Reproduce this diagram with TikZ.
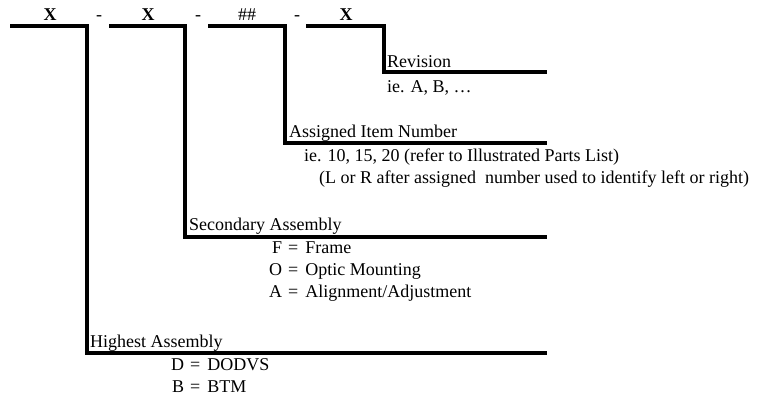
\documentclass[tikz,border=0pt]{standalone}
\usepackage{fontspec}
\setmainfont{Liberation Serif}
\usetikzlibrary{positioning}
\newcommand{\kv}[2]{\makebox[14pt][r]{#1}\hspace{6pt}=\hspace{7pt}#2}

\begin{document}
\begin{tikzpicture}[x=1pt,y=-1pt,
  bar/.style={line width=3.5pt},
  txt/.style={anchor=base west,inner sep=0pt,font=\fontsize{18}{21}\selectfont},
  code/.style={anchor=base,inner sep=0pt,font=\fontsize{18}{21}\selectfont\bfseries}]
\useasboundingbox (0,0) rectangle (759,400);
% part number fields
\node[code] (f1) at (50,20) {X};
\node[txt,anchor=base] (d1) at (99,20) {-};
\node[code] (f2) at (148,20) {X};
\node[txt,anchor=base] (d2) at (198,20) {-};
\node[txt,anchor=base] (f3) at (247,20) {\#\#};
\node[txt,anchor=base] (d3) at (297,20) {-};
\node[code] (f4) at (346,20) {X};
% brackets
\coordinate (h0) at (10,26);  \coordinate (h1) at (87,26);
\coordinate (h2) at (87,353); \coordinate (h3) at (547,353);
\coordinate (s0) at (109,26); \coordinate (s1) at (185,26);
\coordinate (s2) at (185,237); \coordinate (s3) at (547,237);
\coordinate (a0) at (208,26); \coordinate (a1) at (285,26);
\coordinate (a2) at (285,143); \coordinate (a3) at (547,143);
\coordinate (r0) at (306,26); \coordinate (r1) at (384,26);
\coordinate (r2) at (384,72); \coordinate (r3) at (547,72);
\draw[bar] (h0) -- (h1) -- (h2) -- (h3);
\draw[bar] (s0) -- (s1) -- (s2) -- (s3);
\draw[bar] (a0) -- (a1) -- (a2) -- (a3);
\draw[bar] (r0) -- (r1) -- (r2) -- (r3);
% revision
\node[txt] (rev) at (387,67) {Revision};
\node[txt] (revex) at (387,92) {ie. A, B, \ldots};
% item number
\node[txt] (item) at (289,137) {Assigned Item Number};
\node[txt] (itemex) at (304,161) {ie. 10, 15, 20 (refer to Illustrated Parts List)};
\node[txt] (itemlr) at (319,183) {(L or R after assigned\ \ number used to identify left or right)};
% secondary assembly
\node[txt] (sec) at (189,230) {Secondary Assembly};
\node[txt] (secf) at (268,253) {\kv{F}{Frame}};
\node[txt] (seco) at (268,275) {\kv{O}{Optic Mounting}};
\node[txt] (seca) at (268,297) {\kv{A}{Alignment/Adjustment}};
% highest assembly
\node[txt] (high) at (90,347) {Highest Assembly};
\node[txt] (highd) at (170,370) {\kv{D}{DODVS}};
\node[txt] (highb) at (170,392) {\kv{B}{BTM}};
\end{tikzpicture}
\end{document}
